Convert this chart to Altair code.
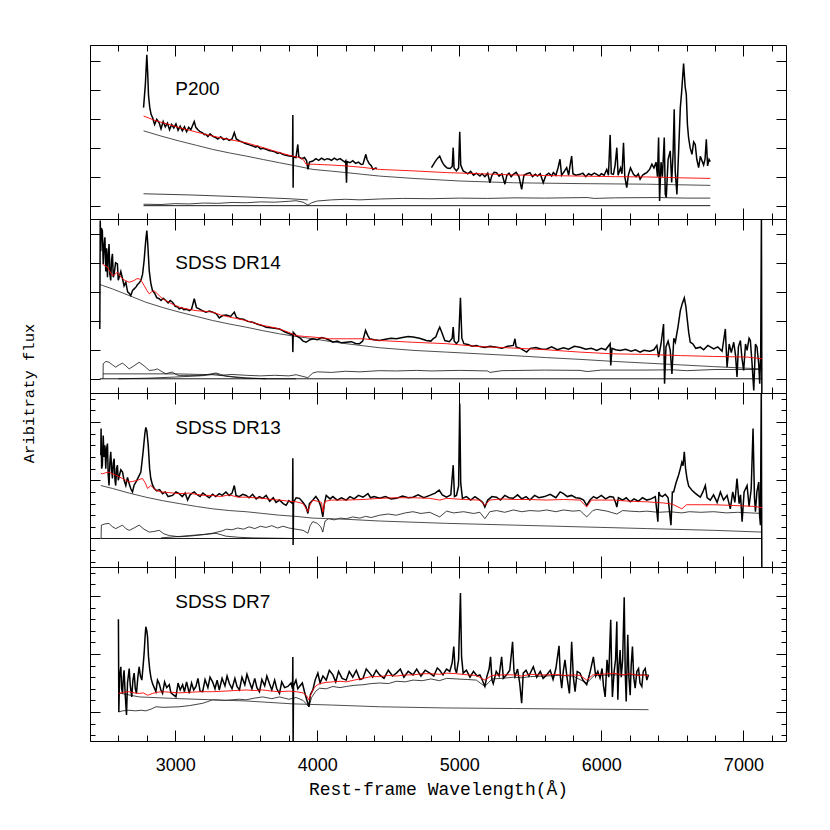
import altair as alt
import pandas as pd

# ---------------- data (wavelength in Angstrom, arbitrary flux) ----------------
PANEL_NAMES = ["P200", "SDSS DR14", "SDSS DR13", "SDSS DR7"]
LABEL_WL = [3000, 3000, 3000, 3000]
LABEL_FLUX = [4.01, 4.0, 1.89, 1.90]

X_DOMAIN = [2400, 7300]
MAJOR_X = [3000, 4000, 5000, 6000, 7000]
MINOR_X = [2400, 2600, 2800, 3200, 3400, 3600, 3800, 4200, 4400, 4600, 4800,
           5200, 5400, 5600, 5800, 6200, 6400, 6600, 6800, 7200]

# ---- P200 ----
P200_OBS_A = [(2777, 3.38), (2790, 4.20), (2800, 5.20), (2806, 4.60), (2812, 3.80), (2821, 3.38),
              (2830, 3.15), (2840, 3.04), (2855, 2.80), (2870, 2.98), (2887, 2.86), (2900, 2.65),
              (2915, 2.90), (2930, 2.72), (2945, 2.85), (2960, 2.62), (2975, 2.80), (2990, 2.68),
              (3005, 2.82), (3020, 2.60), (3035, 2.74), (3050, 2.58), (3065, 2.72), (3080, 2.55),
              (3095, 2.70), (3110, 2.62), (3125, 2.80), (3134, 2.90), (3145, 2.70), (3160, 2.62),
              (3175, 2.55), (3190, 2.52), (3205, 2.45), (3216, 2.46), (3230, 2.38), (3245, 2.48),
              (3263, 2.40), (3280, 2.36), (3300, 2.30), (3320, 2.38), (3340, 2.28), (3360, 2.32),
              (3380, 2.25), (3400, 2.30), (3416, 2.52), (3430, 2.30), (3452, 2.23), (3470, 2.20),
              (3490, 2.15), (3510, 2.12), (3530, 2.08), (3546, 2.06), (3565, 2.02), (3580, 2.05),
              (3600, 1.96), (3620, 1.98), (3640, 1.94), (3660, 1.90), (3680, 1.88), (3700, 1.86),
              (3720, 1.80), (3734, 1.83), (3760, 1.76), (3780, 1.74), (3804, 1.71), (3826, 1.70),
              (3828, 3.13), (3830, 0.62), (3832, 1.68), (3850, 1.66), (3863, 2.11), (3870, 1.68),
              (3890, 1.62), (3910, 1.66), (3925, 1.55), (3934, 1.25), (3945, 1.50), (3969, 1.54),
              (3990, 1.62), (4010, 1.56), (4030, 1.64), (4050, 1.58), (4070, 1.62), (4086, 1.60),
              (4100, 1.56), (4120, 1.64), (4140, 1.58), (4160, 1.62), (4180, 1.55), (4195, 1.50),
              (4200, 1.54), (4206, 0.79), (4210, 1.52), (4230, 1.48), (4250, 1.55), (4270, 1.46),
              (4290, 1.50), (4310, 1.42), (4322, 1.43), (4335, 1.65), (4342, 1.77), (4350, 1.60),
              (4365, 1.45), (4380, 1.38), (4392, 1.25), (4410, 1.30), (4420, 1.28)]
P200_OBS_B = [(4804, 1.31), (4815, 1.40), (4830, 1.52), (4845, 1.62), (4862, 1.71), (4875, 1.55),
              (4886, 1.45), (4898, 1.37), (4915, 1.30), (4935, 1.28), (4950, 1.35), (4957, 2.00),
              (4963, 1.30), (4980, 1.20), (4995, 1.30), (5003, 2.55), (5010, 1.40), (5027, 1.20),
              (5045, 1.15), (5060, 1.10), (5080, 1.18), (5100, 1.05), (5120, 1.12), (5145, 1.02),
              (5160, 1.10), (5180, 1.00), (5200, 1.12), (5215, 0.79), (5230, 1.05), (5245, 1.15),
              (5262, 1.14), (5280, 1.02), (5300, 1.10), (5321, 0.74), (5335, 1.05), (5350, 1.12),
              (5365, 1.00), (5380, 1.08), (5400, 1.15), (5420, 1.00), (5439, 0.56), (5455, 1.05),
              (5475, 1.10), (5497, 1.14), (5515, 1.00), (5535, 1.08), (5550, 1.02), (5570, 1.10),
              (5591, 0.79), (5610, 1.05), (5630, 1.12), (5650, 1.02), (5662, 1.14), (5680, 1.05),
              (5695, 1.30), (5709, 1.60), (5720, 1.05), (5735, 1.15), (5756, 1.31), (5770, 1.05),
              (5780, 1.40), (5791, 1.71), (5800, 1.10), (5820, 1.05), (5850, 1.08), (5870, 1.12),
              (5890, 1.00), (5910, 1.10), (5930, 1.05), (5950, 1.12), (5968, 1.08), (5985, 1.02),
              (6000, 1.10), (6020, 1.05), (6038, 1.25), (6050, 1.05), (6062, 2.44), (6070, 1.10),
              (6085, 1.08), (6097, 1.40), (6109, 2.00), (6118, 1.05), (6135, 1.30), (6145, 1.10),
              (6156, 2.17), (6165, 1.00), (6179, 0.62), (6190, 1.05), (6205, 1.30), (6226, 1.08),
              (6245, 1.00), (6260, 1.10), (6273, 0.91), (6290, 1.05), (6305, 1.10), (6320, 1.14),
              (6340, 1.25), (6356, 1.43), (6370, 1.30), (6385, 1.50), (6395, 1.00), (6403, 2.35),
              (6410, 0.16), (6420, 1.50), (6430, 1.00), (6443, 2.35), (6450, 0.40), (6457, 0.28),
              (6470, 1.60), (6485, 1.89), (6495, 0.80), (6505, 1.80), (6513, 3.32), (6520, 1.20),
              (6532, 0.39), (6545, 2.00), (6556, 3.38), (6565, 3.90), (6579, 4.90), (6590, 4.10),
              (6598, 3.84), (6606, 2.80), (6614, 2.35), (6625, 2.00), (6638, 1.77), (6650, 2.20),
              (6661, 2.11), (6672, 1.60), (6685, 1.31), (6697, 1.70), (6709, 1.54), (6720, 1.40),
              (6730, 1.60), (6739, 2.29), (6748, 1.37), (6758, 1.60), (6767, 1.52)]
P200_MODEL = [(2777, 3.09), (2800, 3.05), (2850, 2.95), (2911, 2.86), (2970, 2.78), (3028, 2.69),
              (3100, 2.60), (3180, 2.50), (3263, 2.40), (3380, 2.28), (3499, 2.17), (3620, 2.00),
              (3734, 1.83), (3800, 1.74), (3875, 1.66), (3900, 1.60), (3922, 1.43), (3969, 1.43),
              (4100, 1.40), (4204, 1.37), (4320, 1.32), (4439, 1.25), (4674, 1.20), (4910, 1.14),
              (5150, 1.10), (5380, 1.06), (5600, 1.04), (5850, 1.02), (6100, 1.00), (6320, 0.99),
              (6550, 0.96), (6767, 0.94)]
P200_CONT = [(2777, 2.58), (2900, 2.40), (3028, 2.23), (3150, 2.08), (3263, 1.94), (3380, 1.82),
             (3499, 1.71), (3620, 1.59), (3734, 1.48), (3850, 1.37), (3969, 1.25), (4100, 1.19),
             (4204, 1.14), (4320, 1.08), (4439, 1.02), (4674, 0.94), (5003, 0.85), (5380, 0.79),
             (5850, 0.76), (6320, 0.74), (6767, 0.70)]
P200_HOST = [(2777, 0.05), (2900, 0.04), (3000, 0.07), (3100, 0.06), (3200, 0.09), (3300, 0.08),
             (3400, 0.11), (3500, 0.10), (3600, 0.13), (3700, 0.12), (3800, 0.15), (3850, 0.17),
             (3900, 0.12), (3934, 0.02), (3960, 0.10), (4000, 0.16), (4100, 0.20), (4200, 0.22),
             (4300, 0.20), (4439, 0.23), (4600, 0.25), (4800, 0.24), (5000, 0.26), (5200, 0.25),
             (5400, 0.27), (5600, 0.26), (5900, 0.28), (5950, 0.25), (6100, 0.27), (6400, 0.28),
             (6600, 0.26), (6767, 0.26)]
P200_FEII = [(2777, 0.41), (3100, 0.37), (3500, 0.30), (3800, 0.24), (3934, 0.20)]
P200_ZERO = [(2777, 0.0), (6767, 0.0)]

# ---- SDSS DR14 ----
DR14_OBS = [(2469, 1.72), (2472, 5.46), (2476, 4.40), (2480, 5.20), (2487, 5.11), (2493, 3.96),
            (2499, 4.60), (2505, 4.88), (2511, 3.70), (2517, 4.50), (2523, 3.50), (2528, 4.20),
            (2534, 4.65), (2540, 3.60), (2546, 3.39), (2552, 4.10), (2558, 4.31), (2564, 3.50),
            (2570, 3.62), (2580, 4.00), (2593, 3.96), (2599, 3.40), (2605, 3.50), (2617, 3.70),
            (2629, 3.45), (2640, 3.20), (2652, 3.33), (2665, 3.00), (2676, 2.95), (2687, 2.87),
            (2700, 3.05), (2711, 3.10), (2723, 3.16), (2735, 3.25), (2746, 3.30), (2758, 3.39),
            (2770, 3.60), (2781, 4.08), (2793, 4.80), (2800, 5.11), (2806, 4.70), (2817, 3.73),
            (2828, 3.30), (2840, 3.04), (2855, 2.95), (2870, 2.80), (2887, 2.76), (2900, 2.70),
            (2915, 2.78), (2934, 2.70), (2950, 2.62), (2965, 2.70), (2981, 2.64), (3000, 2.50),
            (3015, 2.48), (3028, 2.41), (3045, 2.45), (3060, 2.38), (3080, 2.40), (3099, 2.35),
            (3115, 2.40), (3134, 2.76), (3150, 2.45), (3169, 2.41), (3190, 2.35), (3216, 2.30),
            (3240, 2.34), (3263, 2.30), (3290, 2.24), (3310, 2.10), (3334, 2.18), (3360, 2.20),
            (3390, 2.15), (3416, 2.30), (3430, 2.12), (3452, 2.07), (3480, 2.05), (3510, 1.98),
            (3546, 1.95), (3580, 1.88), (3610, 1.84), (3640, 1.78), (3670, 1.76), (3700, 1.74),
            (3734, 1.72), (3770, 1.62), (3804, 1.55), (3826, 1.52), (3828, 0.92), (3831, 1.60),
            (3851, 1.49), (3880, 1.40), (3900, 1.30), (3922, 1.26), (3945, 1.34), (3969, 1.38),
            (4000, 1.35), (4030, 1.42), (4063, 1.38), (4090, 1.32), (4110, 1.26), (4140, 1.30),
            (4170, 1.24), (4204, 1.26), (4240, 1.28), (4270, 1.22), (4298, 1.21), (4320, 1.30),
            (4340, 1.67), (4355, 1.50), (4369, 1.38), (4400, 1.35), (4439, 1.32), (4480, 1.36),
            (4520, 1.40), (4557, 1.38), (4600, 1.42), (4640, 1.46), (4674, 1.44), (4720, 1.40),
            (4768, 1.32), (4800, 1.30), (4815, 1.38), (4835, 1.45), (4850, 1.65), (4862, 1.78),
            (4875, 1.62), (4898, 1.32), (4930, 1.28), (4950, 1.40), (4957, 1.78), (4964, 1.30),
            (4980, 1.21), (4995, 1.30), (5008, 2.79), (5018, 1.40), (5032, 1.21), (5060, 1.18),
            (5090, 1.12), (5120, 1.15), (5145, 1.11), (5180, 1.08), (5215, 1.12), (5262, 1.09),
            (5300, 1.05), (5340, 1.12), (5380, 1.15), (5392, 1.38), (5400, 1.10), (5430, 1.05),
            (5474, 0.92), (5500, 1.05), (5540, 1.08), (5580, 1.02), (5615, 1.03), (5650, 1.10),
            (5690, 1.00), (5733, 1.07), (5770, 1.02), (5810, 1.12), (5850, 1.09), (5890, 1.02),
            (5930, 1.05), (5968, 0.98), (6000, 1.05), (6030, 1.00), (6062, 1.21), (6066, 0.46),
            (6075, 1.05), (6100, 1.00), (6132, 0.98), (6170, 1.02), (6210, 0.95), (6240, 1.00),
            (6273, 0.92), (6300, 0.98), (6340, 0.95), (6370, 1.00), (6391, 1.15), (6403, 0.75),
            (6420, 1.20), (6438, 1.89), (6445, -0.17), (6455, 1.10), (6470, 1.30), (6485, 0.98),
            (6497, 0.17), (6510, 1.40), (6521, 1.26), (6540, 1.80), (6556, 2.35), (6570, 2.60),
            (6584, 2.79), (6595, 2.50), (6603, 2.13), (6615, 1.60), (6626, 1.26), (6645, 1.20),
            (6665, 1.05), (6697, 1.09), (6720, 1.00), (6750, 1.15), (6791, 1.03), (6820, 1.10),
            (6850, 0.95), (6873, 1.72), (6885, 0.40), (6900, 1.20), (6915, 0.90), (6932, 1.26),
            (6945, 0.80), (6955, 0.06), (6965, 1.10), (6979, 1.32), (6990, 0.70), (7002, 0.29),
            (7015, 1.20), (7026, 0.98), (7040, 1.40), (7049, 1.32), (7060, 0.60), (7073, -0.40),
            (7085, 1.20), (7096, 1.09), (7108, 0.50), (7115, -0.17), (7122, 0.90), (7127, 5.60),
            (7130, -0.60)]
DR14_MODEL = [(2487, 3.96), (2505, 3.90), (2523, 3.85), (2540, 3.70), (2558, 3.56), (2575, 3.60),
              (2593, 3.68), (2610, 3.55), (2629, 3.45), (2650, 3.38), (2676, 3.33), (2695, 3.36),
              (2711, 3.39), (2730, 3.45), (2746, 3.45), (2765, 3.35), (2781, 3.22), (2800, 3.05),
              (2817, 2.93), (2835, 3.00), (2852, 3.04), (2880, 2.90), (2911, 2.76), (2970, 2.60),
              (3028, 2.47), (3090, 2.40), (3146, 2.35), (3200, 2.33), (3263, 2.30), (3320, 2.20),
              (3381, 2.13), (3440, 2.07), (3499, 2.01), (3560, 1.92), (3616, 1.84), (3680, 1.78),
              (3734, 1.72), (3800, 1.60), (3851, 1.49), (3910, 1.46), (3969, 1.44), (4086, 1.38),
              (4204, 1.38), (4322, 1.38), (4439, 1.32), (4674, 1.26), (4910, 1.21), (5145, 1.11),
              (5380, 1.06), (5615, 1.00), (5850, 0.92), (6085, 0.86), (6320, 0.84), (6556, 0.80),
              (6791, 0.77), (7026, 0.75), (7132, 0.69)]
DR14_CONT = [(2470, 3.25), (2487, 3.22), (2558, 3.10), (2676, 2.87), (2793, 2.64), (2910, 2.46),
             (3028, 2.30), (3150, 2.15), (3263, 2.01), (3380, 1.89), (3499, 1.78), (3616, 1.66),
             (3734, 1.55), (3850, 1.46), (3969, 1.38), (4086, 1.29), (4204, 1.21), (4322, 1.14),
             (4439, 1.07), (4674, 0.98), (4910, 0.92), (5145, 0.86), (5380, 0.80), (5615, 0.73),
             (5850, 0.67), (6085, 0.60), (6320, 0.54), (6556, 0.48), (6791, 0.42), (7000, 0.37),
             (7132, 0.34)]
DR14_HOST = [(2600, 0.0), (2800, 0.02), (3000, 0.06), (3200, 0.11), (3287, 0.17), (3320, 0.12),
             (3400, 0.15), (3500, 0.12), (3600, 0.10), (3700, 0.12), (3800, 0.10), (3851, 0.14),
             (3900, 0.08), (3934, 0.04), (3969, 0.20), (4000, 0.24), (4100, 0.22), (4200, 0.26),
             (4300, 0.24), (4439, 0.28), (4557, 0.27), (4700, 0.29), (4800, 0.27), (5000, 0.29),
             (5200, 0.27), (5215, 0.22), (5300, 0.28), (5600, 0.30), (5850, 0.29), (5900, 0.25),
             (6000, 0.30), (6300, 0.30), (6500, 0.31), (6600, 0.28), (6800, 0.32), (7132, 0.32)]
DR14_FEII = [(2492, 0.0), (2493, 0.52), (2513, 0.60), (2534, 0.57), (2558, 0.48), (2581, 0.40),
             (2605, 0.48), (2629, 0.54), (2652, 0.45), (2676, 0.34), (2710, 0.45), (2746, 0.57),
             (2780, 0.45), (2817, 0.29), (2846, 0.30), (2875, 0.34), (2905, 0.25), (2934, 0.17),
             (2958, 0.21), (2981, 0.23), (3005, 0.15), (3028, 0.11), (3100, 0.11), (3169, 0.11),
             (3230, 0.15), (3287, 0.20), (3320, 0.15), (3357, 0.09), (3420, 0.05), (3499, 0.02),
             (3650, 0.0), (3851, 0.0)]
DR14_BALMER = [(2492, 0.17), (3000, 0.17), (3263, 0.14), (3500, 0.03), (3640, 0.0)]
DR14_ZERO = [(2470, 0.0), (7132, 0.0)]

# ---- SDSS DR13 ----
DR13_OBS = [(2476, 1.43), (2478, 1.89), (2482, 1.20), (2487, 1.26), (2493, 1.77), (2499, 1.40),
            (2505, 1.60), (2511, 1.20), (2517, 1.55), (2523, 1.63), (2528, 1.10), (2534, 0.91),
            (2540, 1.30), (2546, 1.49), (2552, 1.20), (2558, 1.03), (2564, 1.30), (2570, 1.37),
            (2576, 1.00), (2581, 0.91), (2587, 1.20), (2593, 1.26), (2599, 1.00), (2605, 1.06),
            (2617, 1.18), (2629, 1.14), (2640, 1.00), (2652, 0.91), (2664, 1.05), (2676, 0.94),
            (2688, 0.85), (2699, 0.80), (2711, 0.92), (2723, 0.97), (2740, 1.05), (2758, 1.14),
            (2774, 1.49), (2786, 1.80), (2793, 1.91), (2800, 1.85), (2810, 1.60), (2820, 1.20),
            (2828, 1.03), (2840, 0.92), (2852, 0.86), (2870, 0.82), (2890, 0.84), (2911, 0.77),
            (2930, 0.80), (2950, 0.72), (2981, 0.74), (3005, 0.80), (3028, 0.77), (3050, 0.72),
            (3070, 0.78), (3087, 0.66), (3105, 0.75), (3120, 0.78), (3134, 0.80), (3150, 0.76),
            (3175, 0.72), (3195, 0.78), (3216, 0.74), (3240, 0.70), (3263, 0.76), (3285, 0.72),
            (3310, 0.77), (3330, 0.74), (3357, 0.80), (3380, 0.74), (3400, 0.78), (3416, 0.91),
            (3428, 0.74), (3450, 0.72), (3475, 0.76), (3499, 0.74), (3520, 0.70), (3545, 0.76),
            (3570, 0.68), (3593, 0.72), (3616, 0.69), (3640, 0.74), (3665, 0.64), (3690, 0.70),
            (3710, 0.62), (3734, 0.66), (3760, 0.60), (3781, 0.57), (3800, 0.65), (3826, 0.60),
            (3828, 1.38), (3830, -0.11), (3833, 0.62), (3851, 0.70), (3875, 0.69), (3900, 0.62),
            (3920, 0.55), (3934, 0.43), (3945, 0.60), (3969, 0.66), (3990, 0.72), (4010, 0.65),
            (4025, 0.55), (4039, 0.37), (4050, 0.60), (4063, 0.74), (4090, 0.68), (4110, 0.72),
            (4140, 0.66), (4170, 0.70), (4204, 0.66), (4230, 0.72), (4260, 0.68), (4290, 0.74),
            (4322, 0.71), (4340, 0.74), (4357, 0.77), (4375, 0.70), (4400, 0.72), (4439, 0.69),
            (4480, 0.72), (4520, 0.68), (4557, 0.69), (4600, 0.73), (4640, 0.70), (4674, 0.71),
            (4710, 0.75), (4750, 0.70), (4792, 0.74), (4830, 0.78), (4858, 0.83), (4880, 0.75),
            (4910, 0.71), (4940, 0.75), (4957, 1.26), (4966, 0.72), (4980, 0.74), (4995, 0.90),
            (5003, 2.32), (5010, 0.95), (5022, 0.69), (5050, 0.72), (5080, 0.66), (5110, 0.72),
            (5145, 0.66), (5165, 0.62), (5180, 0.54), (5200, 0.66), (5230, 0.72), (5262, 0.71),
            (5290, 0.66), (5320, 0.74), (5350, 0.70), (5380, 0.69), (5410, 0.75), (5440, 0.68),
            (5470, 0.72), (5497, 0.66), (5530, 0.74), (5560, 0.70), (5600, 0.72), (5640, 0.76),
            (5680, 0.70), (5710, 0.80), (5733, 0.77), (5760, 0.72), (5790, 0.74), (5820, 0.70),
            (5850, 0.69), (5875, 0.66), (5897, 0.57), (5920, 0.66), (5945, 0.72), (5968, 0.69),
            (6000, 0.74), (6030, 0.68), (6060, 0.72), (6085, 0.71), (6100, 0.62), (6109, 0.54),
            (6120, 0.70), (6150, 0.66), (6175, 0.70), (6203, 0.63), (6230, 0.68), (6260, 0.64),
            (6290, 0.70), (6320, 0.66), (6350, 0.68), (6380, 0.72), (6398, 0.29), (6405, 0.80),
            (6414, 0.74), (6430, 0.72), (6450, 0.76), (6470, 0.70), (6490, 0.23), (6500, 0.80),
            (6509, 0.80), (6525, 0.95), (6544, 1.09), (6556, 1.20), (6567, 1.31), (6575, 1.25),
            (6584, 1.49), (6593, 1.20), (6603, 1.03), (6615, 0.90), (6638, 0.83), (6660, 0.78),
            (6680, 0.74), (6697, 0.71), (6715, 0.80), (6732, 0.91), (6745, 0.70), (6767, 0.66),
            (6790, 0.75), (6815, 0.62), (6838, 0.80), (6860, 0.66), (6885, 0.74), (6908, 0.51),
            (6925, 0.80), (6940, 0.62), (6955, 1.03), (6970, 0.60), (6980, 0.75), (6991, 0.29),
            (7005, 0.80), (7026, 0.91), (7040, 0.55), (7055, 0.85), (7068, 1.89), (7078, 0.70),
            (7085, 0.46), (7095, 0.80), (7108, 0.97), (7114, 0.40), (7120, 0.23), (7126, 2.60),
            (7130, -0.60)]
DR13_MODEL = [(2476, 1.12), (2487, 1.11), (2510, 1.13), (2534, 1.14), (2558, 1.11), (2581, 1.09),
              (2605, 1.06), (2629, 1.03), (2652, 1.00), (2676, 0.97), (2700, 0.98), (2734, 1.00),
              (2755, 1.02), (2770, 1.03), (2790, 0.95), (2805, 0.86), (2815, 0.88), (2828, 0.91),
              (2845, 0.87), (2864, 0.83), (2900, 0.80), (2950, 0.79), (3028, 0.77), (3100, 0.78),
              (3146, 0.76), (3200, 0.74), (3263, 0.74), (3320, 0.72), (3380, 0.75), (3440, 0.71),
              (3499, 0.71), (3560, 0.70), (3616, 0.69), (3680, 0.67), (3734, 0.66), (3800, 0.64),
              (3851, 0.63), (3900, 0.60), (3934, 0.46), (3950, 0.58), (3969, 0.66), (4030, 0.62),
              (4040, 0.45), (4055, 0.64), (4100, 0.66), (4204, 0.66), (4322, 0.67), (4439, 0.69),
              (4557, 0.70), (4674, 0.70), (4792, 0.69), (4862, 0.66), (4910, 0.69), (5030, 0.67),
              (5145, 0.66), (5180, 0.57), (5215, 0.66), (5300, 0.68), (5380, 0.67), (5497, 0.67),
              (5615, 0.66), (5733, 0.67), (5850, 0.66), (5897, 0.54), (5930, 0.66), (6085, 0.66),
              (6200, 0.64), (6320, 0.63), (6440, 0.61), (6500, 0.59), (6567, 0.51), (6600, 0.58),
              (6700, 0.58), (6791, 0.58), (6900, 0.57), (7000, 0.56), (7080, 0.55), (7132, 0.53)]
DR13_CONT = [(2476, 0.91), (2558, 0.86), (2676, 0.78), (2793, 0.71), (2910, 0.65), (3028, 0.60),
             (3150, 0.55), (3263, 0.51), (3380, 0.48), (3499, 0.46), (3616, 0.43), (3734, 0.40),
             (3850, 0.38), (3969, 0.35), (4086, 0.34), (4204, 0.33), (4439, 0.30), (4674, 0.28),
             (4910, 0.26), (5380, 0.23), (5850, 0.20), (6320, 0.17), (6791, 0.14), (7132, 0.11)]
DR13_HOST = [(2900, 0.01), (3004, 0.03), (3100, 0.05), (3200, 0.07), (3263, 0.09), (3330, 0.13),
             (3360, 0.16), (3400, 0.15), (3440, 0.18), (3480, 0.16), (3520, 0.20), (3560, 0.17),
             (3600, 0.21), (3640, 0.19), (3680, 0.22), (3720, 0.18), (3760, 0.21), (3800, 0.18),
             (3850, 0.16), (3900, 0.14), (3934, 0.09), (3950, 0.22), (3969, 0.29), (4000, 0.26),
             (4025, 0.20), (4039, 0.11), (4055, 0.30), (4080, 0.34), (4120, 0.32), (4160, 0.35),
             (4204, 0.34), (4250, 0.37), (4300, 0.35), (4340, 0.38), (4380, 0.36), (4439, 0.40),
             (4500, 0.42), (4557, 0.40), (4620, 0.44), (4674, 0.46), (4730, 0.43), (4792, 0.45),
             (4862, 0.37), (4910, 0.47), (4960, 0.44), (5030, 0.46), (5100, 0.43), (5145, 0.45),
             (5180, 0.34), (5215, 0.46), (5262, 0.48), (5320, 0.45), (5380, 0.49), (5440, 0.46),
             (5497, 0.48), (5560, 0.47), (5615, 0.49), (5680, 0.46), (5733, 0.49), (5800, 0.47),
             (5850, 0.48), (5897, 0.37), (5940, 0.48), (5968, 0.50), (6040, 0.47), (6109, 0.42),
             (6150, 0.48), (6200, 0.47), (6270, 0.46), (6320, 0.47), (6400, 0.45), (6480, 0.46),
             (6567, 0.44), (6620, 0.46), (6700, 0.45), (6791, 0.46), (6880, 0.44), (6960, 0.45),
             (7050, 0.44), (7132, 0.43)]
DR13_FEII = [(2478, 0.0), (2480, 0.23), (2505, 0.25), (2534, 0.26), (2558, 0.20), (2581, 0.17),
             (2605, 0.20), (2629, 0.23), (2652, 0.17), (2676, 0.14), (2710, 0.18), (2746, 0.23),
             (2780, 0.16), (2817, 0.11), (2850, 0.12), (2887, 0.14), (2920, 0.08), (2958, 0.05),
             (3028, 0.03), (3100, 0.04), (3216, 0.07), (3287, 0.09), (3357, 0.04), (3450, 0.02),
             (3550, 0.01), (3828, 0.0)]
DR13_ZERO = [(2476, 0.0), (7132, 0.0)]

# ---- SDSS DR7 ----
DR7_OBS = [(2600, 1.60), (2603, 0.00), (2608, 0.60), (2617, 0.78), (2623, 0.40), (2629, 0.32),
           (2635, 0.60), (2640, 0.72), (2648, 0.30), (2657, -0.05), (2664, 0.50), (2676, 0.75),
           (2684, 0.45), (2694, 0.26), (2702, 0.55), (2711, 0.67), (2719, 0.40), (2727, 0.32),
           (2737, 0.60), (2746, 0.78), (2755, 0.62), (2765, 0.55), (2774, 0.80), (2781, 1.01),
           (2788, 1.30), (2793, 1.47), (2800, 1.40), (2805, 1.30), (2812, 0.95), (2821, 0.72),
           (2830, 0.58), (2840, 0.49), (2852, 0.42), (2864, 0.35), (2875, 0.55), (2887, 0.49),
           (2899, 0.38), (2911, 0.32), (2925, 0.52), (2940, 0.42), (2958, 0.47), (2970, 0.33),
           (2985, 0.30), (3005, 0.26), (3020, 0.50), (3035, 0.38), (3052, 0.47), (3065, 0.35),
           (3080, 0.52), (3099, 0.32), (3115, 0.50), (3130, 0.38), (3146, 0.44), (3160, 0.58),
           (3175, 0.36), (3193, 0.35), (3210, 0.56), (3230, 0.42), (3245, 0.60), (3263, 0.52),
           (3280, 0.40), (3295, 0.55), (3310, 0.38), (3330, 0.58), (3350, 0.45), (3365, 0.62),
           (3381, 0.49), (3400, 0.40), (3420, 0.58), (3435, 0.44), (3452, 0.38), (3470, 0.60),
           (3490, 0.47), (3505, 0.65), (3522, 0.52), (3540, 0.40), (3560, 0.58), (3575, 0.42),
           (3593, 0.35), (3610, 0.56), (3630, 0.45), (3645, 0.62), (3663, 0.49), (3680, 0.38),
           (3700, 0.55), (3715, 0.40), (3734, 0.32), (3750, 0.52), (3770, 0.42), (3793, 0.44),
           (3815, 0.50), (3826, 0.40), (3828, 0.95), (3830, -0.55), (3833, 0.45), (3850, 0.55),
           (3863, 0.40), (3875, 0.44), (3895, 0.50), (3910, 0.35), (3925, 0.22), (3941, 0.09),
           (3952, 0.30), (3969, 0.38), (3985, 0.55), (4004, 0.67), (4020, 0.50), (4040, 0.62),
           (4063, 0.55), (4085, 0.72), (4110, 0.64), (4130, 0.52), (4150, 0.70), (4175, 0.58),
           (4204, 0.55), (4225, 0.70), (4250, 0.60), (4275, 0.72), (4300, 0.56), (4322, 0.58),
           (4345, 0.74), (4369, 0.67), (4390, 0.60), (4415, 0.72), (4439, 0.64), (4470, 0.58),
           (4500, 0.72), (4530, 0.62), (4557, 0.67), (4585, 0.74), (4610, 0.60), (4640, 0.70),
           (4674, 0.64), (4700, 0.74), (4730, 0.62), (4760, 0.72), (4792, 0.67), (4820, 0.62),
           (4845, 0.76), (4862, 0.72), (4885, 0.64), (4910, 0.74), (4933, 0.70), (4950, 0.85),
           (4961, 1.13), (4970, 0.75), (4980, 0.67), (4995, 0.90), (5008, 2.05), (5016, 0.95),
           (5027, 0.67), (5050, 0.72), (5075, 0.60), (5100, 0.70), (5125, 0.62), (5145, 0.64),
           (5160, 0.56), (5180, 0.44), (5195, 0.62), (5210, 0.74), (5220, 0.95), (5230, 0.55),
           (5239, 0.49), (5260, 0.70), (5280, 0.62), (5298, 0.95), (5310, 0.58), (5333, 0.64),
           (5355, 0.72), (5375, 1.21), (5385, 0.70), (5392, 0.61), (5410, 0.74), (5425, 0.50),
           (5439, 0.15), (5450, 0.67), (5470, 0.72), (5490, 0.62), (5521, 0.78), (5545, 0.60),
           (5570, 0.70), (5590, 0.58), (5615, 0.64), (5640, 0.72), (5660, 0.56), (5680, 0.75),
           (5702, 1.14), (5712, 0.60), (5721, 0.41), (5732, 0.70), (5744, 0.90), (5758, 0.60),
           (5775, 0.32), (5783, 0.70), (5791, 1.21), (5803, 0.60), (5815, 0.35), (5830, 0.70),
           (5850, 0.67), (5870, 0.55), (5897, 0.47), (5920, 0.68), (5944, 0.95), (5960, 0.62),
           (5975, 0.70), (5991, 0.58), (6005, 0.75), (6015, 0.45), (6027, 0.26), (6040, 0.90),
           (6052, 0.60), (6060, 1.20), (6066, 1.59), (6072, 0.80), (6078, 0.26), (6090, 0.70),
           (6100, 0.90), (6109, 1.56), (6113, 0.70), (6116, 0.21), (6124, 0.80), (6132, 1.07),
           (6140, 0.60), (6150, 0.90), (6161, 1.98), (6168, 0.70), (6175, 0.18), (6180, 0.70),
           (6186, 1.33), (6194, 0.60), (6203, 0.29), (6210, 0.80), (6219, 1.13), (6228, 0.60),
           (6238, 0.41), (6250, 0.70), (6262, 0.75), (6272, 0.50), (6285, 0.44), (6295, 0.70),
           (6309, 0.75), (6320, 0.55), (6332, 0.64)]
DR7_MODEL = [(2600, 0.32), (2640, 0.34), (2676, 0.35), (2710, 0.33), (2746, 0.32), (2775, 0.33),
             (2805, 0.29), (2820, 0.30), (2840, 0.32), (2870, 0.34), (2911, 0.35), (2970, 0.34),
             (3028, 0.33), (3100, 0.34), (3180, 0.35), (3263, 0.35), (3350, 0.36), (3420, 0.37),
             (3499, 0.38), (3560, 0.37), (3616, 0.38), (3680, 0.36), (3734, 0.35), (3800, 0.36),
             (3851, 0.35), (3900, 0.33), (3925, 0.28), (3941, 0.21), (3955, 0.30), (3969, 0.38),
             (3990, 0.45), (4016, 0.49), (4063, 0.51), (4110, 0.52), (4160, 0.53), (4204, 0.52),
             (4260, 0.55), (4322, 0.58), (4380, 0.61), (4439, 0.61), (4500, 0.63), (4557, 0.62),
             (4620, 0.64), (4674, 0.64), (4740, 0.66), (4800, 0.66), (4860, 0.65), (4910, 0.67),
             (4980, 0.66), (5060, 0.64), (5120, 0.63), (5180, 0.55), (5230, 0.63), (5300, 0.64),
             (5380, 0.64), (5440, 0.62), (5500, 0.65), (5560, 0.64), (5615, 0.64), (5680, 0.65),
             (5740, 0.63), (5800, 0.64), (5850, 0.63), (5897, 0.55), (5940, 0.64), (6000, 0.65),
             (6085, 0.67), (6150, 0.64), (6200, 0.66), (6260, 0.63), (6300, 0.64), (6332, 0.62)]
DR7_HOST = [(2600, 0.00), (2630, 0.02), (2676, 0.03), (2720, 0.02), (2760, 0.03), (2793, 0.02),
            (2830, 0.05), (2864, 0.09), (2920, 0.08), (3028, 0.09), (3100, 0.11), (3193, 0.15),
            (3230, 0.18), (3263, 0.21), (3350, 0.20), (3450, 0.22), (3499, 0.21), (3560, 0.24),
            (3616, 0.26), (3680, 0.23), (3734, 0.26), (3800, 0.22), (3851, 0.25), (3900, 0.20),
            (3941, 0.09), (3960, 0.25), (3990, 0.36), (4016, 0.41), (4063, 0.40), (4110, 0.44),
            (4160, 0.42), (4204, 0.44), (4260, 0.46), (4322, 0.47), (4380, 0.49), (4439, 0.50),
            (4500, 0.49), (4557, 0.53), (4620, 0.52), (4674, 0.55), (4740, 0.54), (4800, 0.57),
            (4860, 0.54), (4910, 0.58), (4980, 0.57), (5060, 0.56), (5120, 0.55), (5180, 0.44),
            (5230, 0.57), (5300, 0.58), (5380, 0.60), (5440, 0.59), (5500, 0.61), (5600, 0.62),
            (5700, 0.63), (5800, 0.62), (5897, 0.50), (5950, 0.63), (6085, 0.64), (6200, 0.64),
            (6332, 0.64)]
DR7_CONT = [(2600, 0.33), (2746, 0.26), (3028, 0.23), (3263, 0.21), (3500, 0.19), (3828, 0.14),
            (4100, 0.12), (4439, 0.09), (4900, 0.07), (5380, 0.06), (5850, 0.05), (6332, 0.04)]

# ---------------- chart ----------------
W, H = 696, 174
MONO = "Liberation Mono"
SANS = "Liberation Sans"


def frame(pairs, seg="a"):
    return pd.DataFrame({"wl": [p[0] for p in pairs], "flux": [p[1] for p in pairs], "seg": seg})


def ax(orient, values, size, **kw):
    spec = dict(orient=orient, values=values, tickSize=size, offset=-size, domain=False,
                grid=False, labels=False, title=None, tickColor="black", tickWidth=1)
    spec.update(kw)
    return alt.Axis(**spec)


def panel(idx, obs_segments, model, cont, extras, ydom, ymaj, ymin, bottom=False, ytitle=False):
    xs = alt.Scale(domain=X_DOMAIN, nice=False, zero=False)
    ys = alt.Scale(domain=ydom, nice=False, zero=False)

    def enc(xa, ya):
        return dict(x=alt.X("wl:Q", scale=xs, axis=xa), y=alt.Y("flux:Q", scale=ys, axis=ya))

    bkw = {}
    if bottom:
        bkw = dict(labels=True, format="d", labelFont=SANS, labelFontSize=18, labelColor="black",
                   labelPadding=15, labelFlush=False, labelOverlap=False,
                   title="Rest-frame Wavelength(Å)", titleFont=MONO, titleFontSize=18,
                   titleFontWeight="normal", titleColor="black", titleY=59,
                   titleBaseline="middle")
    lkw = {}
    if ytitle:
        lkw = dict(title="Aribitraty flux", titleFont=MONO, titleFontSize=15.5,
                   titleFontWeight="normal", titleColor="black", titleX=-72, titleY=H,
                   titleBaseline="middle", titleAngle=270, titleAlign="center")

    layers = []
    for i, (pairs, color, width) in enumerate(extras):
        if i == 0:
            xa = ax("bottom", MINOR_X, 6)
            ya = ax("left", ymin, 5) if ymin else None
        else:
            xa, ya = None, None
        layers.append(alt.Chart(frame(pairs)).mark_line(color=color, strokeWidth=width, clip=True)
                      .encode(**enc(xa, ya)))
    layers.append(alt.Chart(frame(cont)).mark_line(color="#3a3a3a", strokeWidth=0.9, clip=True)
                  .encode(**enc(ax("bottom", MAJOR_X, 11, **bkw), ax("left", ymaj, 10, **lkw))))
    obs_df = pd.concat([frame(s, seg=str(k)) for k, s in enumerate(obs_segments)], ignore_index=True)
    layers.append(alt.Chart(obs_df).mark_line(color="black", strokeWidth=1.5, clip=True)
                  .encode(detail="seg:N", **enc(ax("top", MAJOR_X, 11), ax("right", ymaj, 10))))
    layers.append(alt.Chart(frame(model)).mark_line(color="#ff0000", strokeWidth=0.9, clip=True)
                  .encode(**enc(ax("top", MINOR_X, 6), ax("right", ymin, 5) if ymin else None)))
    lab = pd.DataFrame({"wl": [LABEL_WL[idx]], "flux": [LABEL_FLUX[idx]], "label": [PANEL_NAMES[idx]]})
    layers.append(alt.Chart(lab).mark_text(align="left", baseline="middle", font=SANS, fontSize=19,
                                           color="black")
                  .encode(text="label:N", **enc(None, None)))
    return (alt.layer(*layers)
            .resolve_axis(x="independent", y="independent")
            .properties(width=W, height=H, view=alt.ViewBackground(stroke="black", strokeWidth=1)))


Y_MAJ_BIG = [0, 1, 2, 3, 4, 5]
Y_MAJ_SMALL = [0, 1, 2]
Y_MIN_SMALL = [-0.4, -0.2, 0.2, 0.4, 0.6, 0.8, 1.2, 1.4, 1.6, 1.8, 2.2, 2.4]

thin = "#111111"
p1 = panel(0, [P200_OBS_A, P200_OBS_B], P200_MODEL, P200_CONT,
           [(P200_HOST, thin, 0.8), (P200_FEII, thin, 0.8), (P200_ZERO, "black", 0.9)],
           [-0.46, 5.54], Y_MAJ_BIG, None)
p2 = panel(1, [DR14_OBS], DR14_MODEL, DR14_CONT,
           [(DR14_HOST, thin, 0.8), (DR14_FEII, thin, 0.8), (DR14_BALMER, thin, 0.8),
            (DR14_ZERO, "black", 0.9)],
           [-0.49, 5.51], Y_MAJ_BIG, None, ytitle=True)
p3 = panel(2, [DR13_OBS], DR13_MODEL, DR13_CONT,
           [(DR13_HOST, thin, 0.8), (DR13_FEII, thin, 0.8), (DR13_ZERO, "black", 0.9)],
           [-0.49, 2.50], Y_MAJ_SMALL, Y_MIN_SMALL)
p4 = panel(3, [DR7_OBS], DR7_MODEL, DR7_CONT,
           [(DR7_HOST, thin, 0.8)],
           [-0.5, 2.5], Y_MAJ_SMALL, Y_MIN_SMALL, bottom=True)

chart = (alt.vconcat(p1, p2, p3, p4, spacing=0, bounds="flush")
         .properties(padding={"left": 12, "top": 36, "right": 10, "bottom": 10},
                     background="white")
         .configure_view(stroke="black", strokeWidth=1))

chart.save("out.html", embed_options={"renderer": "svg", "actions": False})
